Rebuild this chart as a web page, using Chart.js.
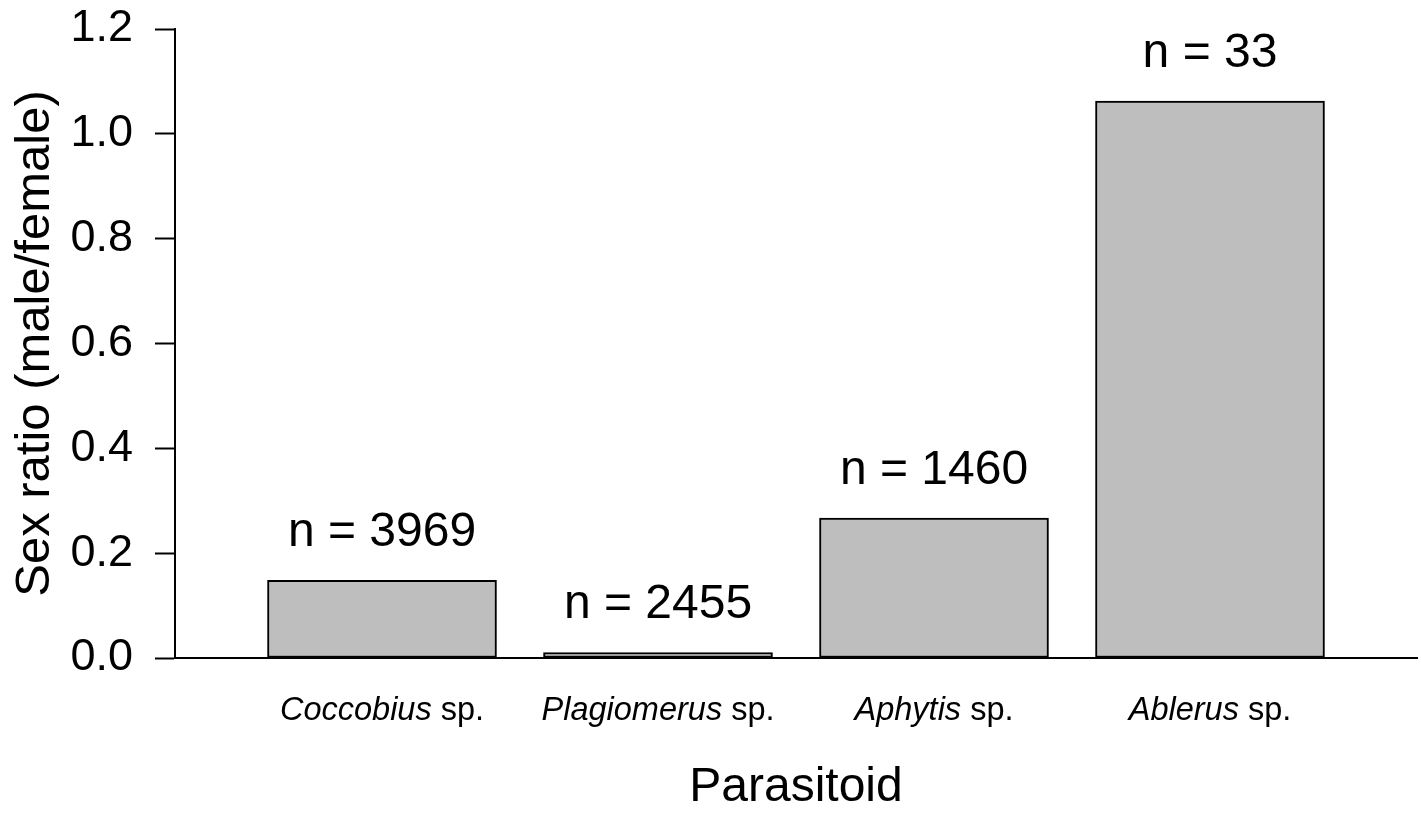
<!DOCTYPE html>
<html>
<head>
  <title>Sex ratio by parasitoid</title>
  <script src="https://cdn.jsdelivr.net/npm/chart.js"></script>
  <style>
    html, body { margin: 0; padding: 0; background: #fff; }
    #wrap { width: 1421px; height: 813px; }
  </style>
</head>
<body>
  <div id="wrap"><canvas id="ratioChart" width="1421" height="813"></canvas></div>
  <script>
    // data
    const genus = ['Coccobius', 'Plagiomerus', 'Aphytis', 'Ablerus'];
    const sexRatio = [0.148, 0.0105, 0.267, 1.0625];
    const sampleSize = [3969, 2455, 1460, 33];
    const yTicks = [0, 0.2, 0.4, 0.6, 0.8, 1.0, 1.2];

    const FONT = "'Liberation Sans', Arial, sans-serif";

    // draws the "n = ..." notes and the half-italic category names
    const notes = {
      id: 'notes',
      afterDatasetsDraw(chart) {
        const c = chart.ctx;
        const bars = chart.getDatasetMeta(0).data;
        const xs = chart.scales.x;
        c.save();
        c.fillStyle = '#000';
        c.textBaseline = 'alphabetic';
        c.textAlign = 'center';
        c.font = '48px ' + FONT;
        bars.forEach((b, i) => {
          c.fillText('n = ' + sampleSize[i], b.x, b.y - 34);
        });
        // category labels under the axis
        genus.forEach((g, i) => {
          const cx = xs.getPixelForValue(i);
          c.font = 'italic 32.5px ' + FONT;
          const w1 = c.measureText(g).width;
          c.font = '32.5px ' + FONT;
          const w2 = c.measureText(' sp.').width;
          const x0 = cx - (w1 + w2) / 2;
          c.textAlign = 'left';
          c.font = 'italic 32.5px ' + FONT;
          c.fillText(g, x0, 720);
          c.font = '32.5px ' + FONT;
          c.fillText(' sp.', x0 + w1, 720);
        });
        c.restore();
      }
    };

    new Chart(document.getElementById('ratioChart'), {
      type: 'bar',
      data: {
        datasets: [{
          data: sexRatio.map((v, i) => ({ x: i, y: v })),
          backgroundColor: '#bebebe',
          borderColor: '#000',
          borderWidth: 2,
          borderSkipped: false,
          barThickness: 229
        }]
      },
      options: {
        responsive: false,
        animation: false,
        layout: { padding: { top: 29, right: 4, left: 0, bottom: 0 } },
        plugins: { legend: { display: false }, tooltip: { enabled: false } },
        scales: {
          x: {
            type: 'linear',
            min: -0.75,
            max: 3.75,
            offset: false,
            grid: { display: false, offset: false },
            border: { display: true, color: '#000', width: 2 },
            ticks: { display: false },
            title: {
              display: true,
              text: 'Parasitoid',
              color: '#000',
              font: { family: FONT, size: 48, lineHeight: 1 },
              padding: { top: 98, bottom: 1 }
            }
          },
          y: {
            min: 0,
            max: 1.2,
            afterBuildTicks: s => { s.ticks = yTicks.map(v => ({ value: v })); },
            afterFit: s => { s.width = 175; s.paddingTop = 0; s.paddingBottom = 0; },
            grid: {
              drawOnChartArea: false,
              drawTicks: true,
              tickLength: 20,
              tickWidth: 2,
              tickColor: '#000'
            },
            border: { display: true, color: '#000', width: 2 },
            ticks: {
              color: '#000',
              padding: 22,
              font: { family: FONT, size: 45 },
              callback: v => v.toFixed(1)
            },
            title: {
              display: true,
              text: 'Sex ratio (male/female)',
              color: '#000',
              font: { family: FONT, size: 49 },
              padding: { top: 6, bottom: 0 }
            }
          }
        }
      },
      plugins: [notes]
    });
  </script>
</body>
</html>
